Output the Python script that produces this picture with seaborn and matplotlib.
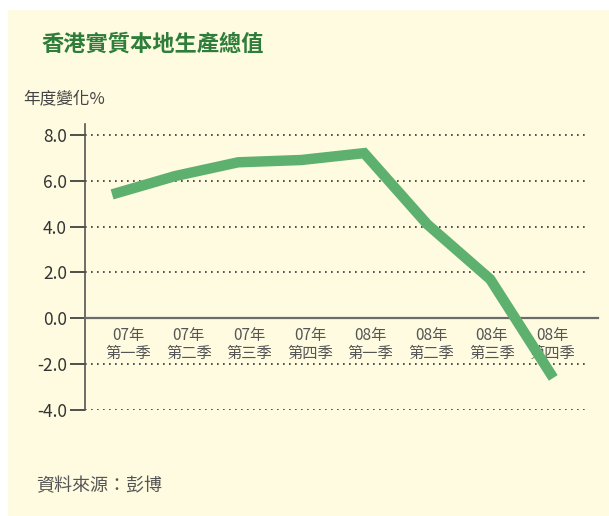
import matplotlib
matplotlib.use("Agg")
import matplotlib.pyplot as plt
import seaborn as sns
import pandas as pd
from matplotlib.patches import Rectangle

# ---- data ----
quarters = ["07年\n第一季", "07年\n第二季", "07年\n第三季", "07年\n第四季",
            "08年\n第一季", "08年\n第二季", "08年\n第三季", "08年\n第四季"]
growth = [5.4, 6.2, 6.8, 6.9, 7.2, 4.1, 1.7, -2.6]
y_ticks = [8.0, 6.0, 4.0, 2.0, 0.0, -2.0, -4.0]
title = "香港實質本地生產總值"
y_label = "年度變化%"
source = "資料來源：彭博"

sns.set_theme(style="white")
plt.rcParams['font.family'] = ['Noto Sans CJK TC', 'DejaVu Sans']

bg = "#FEFBE0"
fig = plt.figure(figsize=(6.09, 5.16), dpi=100, facecolor="white")
fig.patches.append(Rectangle((8/609, 0), 1 - 8/609, 1 - 10/516,
                             transform=fig.transFigure, facecolor=bg,
                             edgecolor="none", zorder=-10))

ax = fig.add_axes([85/609, (516-410)/516, (598-85)/609, (410-124)/516])
ax.set_facecolor("none")
ax.set_zorder(2)

df = pd.DataFrame({"idx": range(len(growth)), "growth": growth})
sns.lineplot(data=df, x="idx", y="growth", ax=ax, color="#5DB06E",
             linewidth=7.5, zorder=3)
for ln in ax.get_lines():
    ln.set_solid_capstyle("butt")
    ln.set_solid_joinstyle("miter")

ax.set_xlim(-0.43, 7.71)
ax.set_ylim(-4.0, 8.47)

# grid lines
for yv in y_ticks:
    if yv != 0:
        ax.axhline(yv, xmin=0, xmax=0.975, color="#333333", linestyle=(0, (1, 2.6)),
                   linewidth=1.2, zorder=1)

for s in ["top", "right"]:
    ax.spines[s].set_visible(False)
ax.spines["bottom"].set_position(("data", 0))
ax.spines["bottom"].set_color("#6b6b6b")
ax.spines["bottom"].set_linewidth(1.6)
ax.spines["left"].set_color("#555555")
ax.spines["left"].set_linewidth(1.2)

ax.set_yticks(y_ticks)
ax.set_yticklabels([f"{v:.1f}" for v in y_ticks], fontsize=12.5, color="#333333")
ax.tick_params(axis="y", length=11, width=1.2, color="#333333", pad=2, left=True)

label_pos = [(128 + 60.6 * i - 112) / 63 for i in range(len(quarters))]
ax.set_xticks(label_pos)
ax.set_xticklabels(quarters, fontsize=11, color="#555555", linespacing=1.1)
ax.tick_params(axis="x", length=0, pad=6)
ax.set_xlabel("")
ax.set_ylabel("")

fig.text(41/609, 1 - 44/516, title, fontsize=16, fontweight="bold",
         color="#2E7D3A", ha="left", va="center")
fig.text(23/609, 1 - 99/516, y_label, fontsize=12, color="#444444",
         ha="left", va="center")
fig.text(36/609, 1 - 486/516, source, fontsize=13, color="#555555",
         ha="left", va="center")

fig.savefig("out.png", dpi=100, facecolor=fig.get_facecolor())
